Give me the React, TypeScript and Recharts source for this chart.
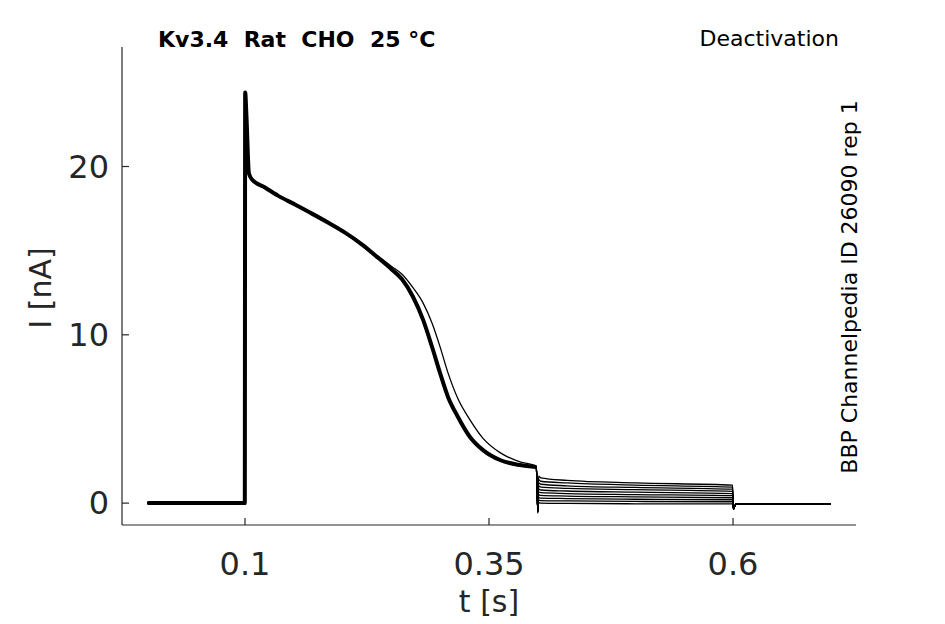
import { Line, LineChart, XAxis, YAxis } from 'recharts'

const activationT = [
  0, 0.0998, 0.1002, 0.1015, 0.104, 0.1072, 0.1205, 0.1338, 0.1512, 0.1686, 0.185, 0.2025, 0.22, 0.2363,
  0.2506, 0.2609, 0.2721, 0.2824, 0.2916, 0.2998, 0.308, 0.3182, 0.3305, 0.3439, 0.3613, 0.3818, 0.3985
]
const bundleI = [
  0, 0, 24.4, 23.0, 19.6, 19.23, 18.75, 18.27, 17.74, 17.2, 16.67, 16.07, 15.36, 14.58,
  13.87, 13.3, 12.26, 10.9, 9.29, 7.74, 6.31, 5.12, 3.93, 3.15, 2.56, 2.26, 2.14
]
const lateI = [
  0, 0, 24.4, 23.0, 19.6, 19.23, 18.75, 18.27, 17.74, 17.2, 16.67, 16.07, 15.38, 14.68,
  14.05, 13.6, 12.8, 11.9, 10.7, 9.3, 7.74, 6.2, 4.95, 3.85, 3.0, 2.45, 2.2
]

// deactivation step, recovery and tail
const tailT = [0.4, 0.4008, 0.403, 0.43, 0.5, 0.5995, 0.6005, 0.603, 0.7]
const tailI = [
  [-0.5, 1.6, 1.5, 1.35, 1.2, 1.07, -0.35, -0.04, -0.04],
  [-0.5, 1.4, 1.3, 1.2, 1.07, 0.95, -0.35, -0.04, -0.04],
  [-0.5, 1.2, 1.12, 1.03, 0.93, 0.83, -0.35, -0.04, -0.04],
  [-0.5, 1.02, 0.95, 0.88, 0.8, 0.7, -0.35, -0.04, -0.04],
  [-0.5, 0.84, 0.78, 0.72, 0.65, 0.57, -0.35, -0.04, -0.04],
  [-0.5, 0.67, 0.62, 0.57, 0.51, 0.44, -0.35, -0.04, -0.04],
  [-0.5, 0.5, 0.46, 0.42, 0.37, 0.32, -0.35, -0.04, -0.04],
  [-0.5, 0.33, 0.3, 0.27, 0.23, 0.2, -0.35, -0.04, -0.04],
  [-0.5, 0.17, 0.15, 0.13, 0.1, 0.08, -0.35, -0.04, -0.04],
  [-0.6, 0.02, 0.0, -0.02, -0.04, -0.05, -0.35, -0.04, -0.04]
]

const xTicks = [0.1, 0.35, 0.6]
const yTicks = [0, 10, 20]

const W = 945
const H = 624
const PLOT_LEFT = 122
const PLOT_RIGHT = 856
const PLOT_TOP = 47
const PLOT_BOTTOM = 525
const INK = '#262626'
const FONT = '"DejaVu Sans", sans-serif'

const sweeps = tailI.map((tail, k) => {
  const act = k === 0 ? lateI : bundleI
  return activationT
    .map((t, i) => ({ t, I: act[i] }))
    .concat(tailT.map((t, i) => ({ t, I: tail[i] })))
})

// the overlapping sweeps read as one thick trace up to the step
const envelope = activationT.map((t, i) => ({ t, I: bundleI[i] }))

function YTick({ y, payload }: any) {
  return (
    <g>
      <line x1={PLOT_LEFT} x2={PLOT_LEFT + 7} y1={y} y2={y} stroke={INK} strokeWidth={1.2} />
      <text x={PLOT_LEFT - 13} y={y} textAnchor="end" dominantBaseline="central" fontSize={32} fontFamily={FONT} fill={INK}>
        {payload.value}
      </text>
    </g>
  )
}

function XTick({ x, payload }: any) {
  return (
    <g>
      <line x1={x} x2={x} y1={PLOT_BOTTOM} y2={PLOT_BOTTOM - 7} stroke={INK} strokeWidth={1.2} />
      <text x={x} y={PLOT_BOTTOM + 50} textAnchor="middle" fontSize={32} fontFamily={FONT} fill={INK}>
        {payload.value}
      </text>
    </g>
  )
}

export default function App() {
  return (
    <div style={{ position: 'absolute', left: 0, top: 0, width: W, height: H, background: '#fff' }}>
      <LineChart
        width={W}
        height={H}
        margin={{ top: PLOT_TOP, right: W - PLOT_RIGHT, bottom: H - PLOT_BOTTOM - 60, left: PLOT_LEFT - 60 }}
      >
        <XAxis
          type="number"
          dataKey="t"
          domain={[-0.026, 0.726]}
          allowDataOverflow
          ticks={xTicks}
          height={60}
          axisLine={{ stroke: INK, strokeWidth: 1.2 }}
          tickLine={false}
          tick={<XTick />}
        />
        <YAxis
          type="number"
          dataKey="I"
          domain={[-1.3, 27.1]}
          allowDataOverflow
          ticks={yTicks}
          width={60}
          axisLine={{ stroke: INK, strokeWidth: 1.2 }}
          tickLine={false}
          tick={<YTick />}
        />
        <Line data={envelope} dataKey="I" type="monotone" stroke="#000" strokeWidth={4} dot={false} isAnimationActive={false} />
        {sweeps.map((data, k) => (
          <Line
            key={k}
            data={data}
            dataKey="I"
            type="monotone"
            stroke="#000"
            strokeWidth={1.3}
            dot={false}
            isAnimationActive={false}
          />
        ))}
      </LineChart>
      <svg width={W} height={H} style={{ position: 'absolute', left: 0, top: 0, pointerEvents: 'none' }}>
        <text x={158} y={47} fontSize={22} fontWeight="bold" fontFamily={FONT} fill="#000">
          {'Kv3.4\u00a0\u00a0Rat\u00a0\u00a0CHO\u00a0\u00a025 °C'}
        </text>
        <text x={839} y={46} textAnchor="end" fontSize={22} fontFamily={FONT} fill="#000">
          Deactivation
        </text>
        <text
          transform="translate(857, 287) rotate(-90)"
          textAnchor="middle"
          fontSize={22}
          fontFamily={FONT}
          fill="#000"
        >
          BBP Channelpedia ID 26090 rep 1
        </text>
        <text transform="translate(51, 288) rotate(-90)" textAnchor="middle" fontSize={30} fontFamily={FONT} fill={INK}>
          I [nA]
        </text>
        <text x={489} y={612} textAnchor="middle" fontSize={30} fontFamily={FONT} fill={INK}>
          t [s]
        </text>
      </svg>
    </div>
  )
}
